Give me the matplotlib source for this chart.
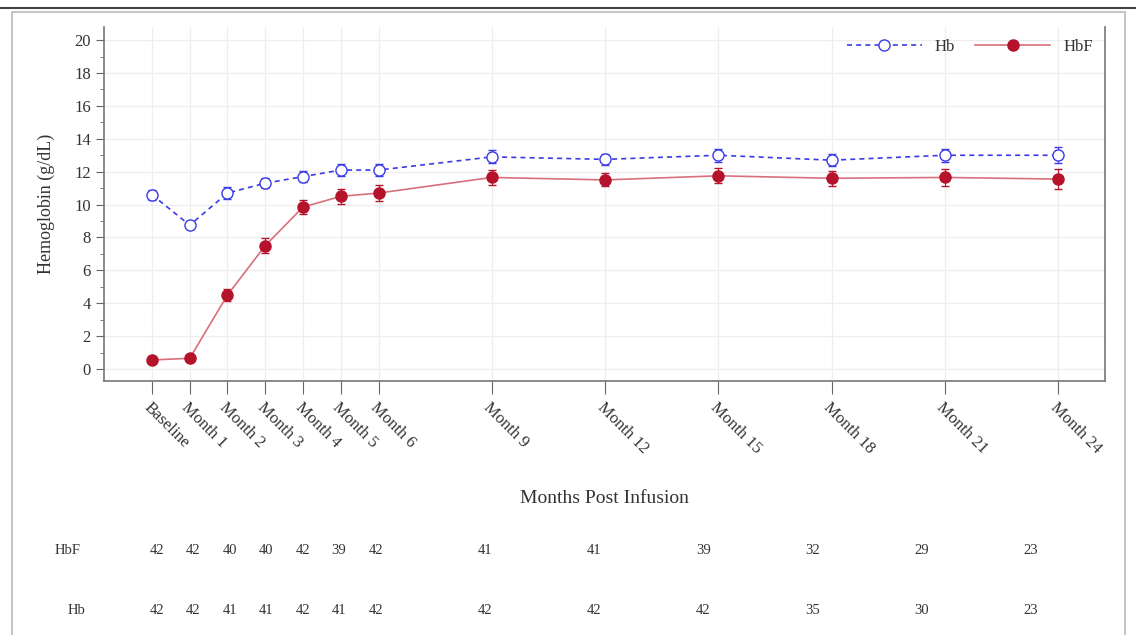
import matplotlib.pyplot as plt
from matplotlib.patches import Rectangle
from matplotlib.lines import Line2D

# data
months = [0, 1, 2, 3, 4, 5, 6, 9, 12, 15, 18, 21, 24]
tick_labels = ['Baseline', 'Month 1', 'Month 2', 'Month 3', 'Month 4', 'Month 5', 'Month 6',
               'Month 9', 'Month 12', 'Month 15', 'Month 18', 'Month 21', 'Month 24']
hb = [10.6, 8.75, 10.7, 11.3, 11.7, 12.1, 12.1, 12.9, 12.75, 13.0, 12.7, 13.0, 13.0]
hb_err = [0.3, 0.25, 0.35, 0.3, 0.35, 0.35, 0.35, 0.4, 0.35, 0.4, 0.35, 0.4, 0.5]
hbf = [0.55, 0.65, 4.5, 7.5, 9.85, 10.5, 10.7, 11.65, 11.5, 11.75, 11.6, 11.65, 11.55]
hbf_err = [0.15, 0.15, 0.35, 0.45, 0.45, 0.45, 0.5, 0.45, 0.4, 0.45, 0.45, 0.5, 0.6]
n_hbf = [42, 42, 40, 40, 42, 39, 42, 41, 41, 39, 32, 29, 23]
n_hb = [42, 42, 41, 41, 42, 41, 42, 42, 42, 42, 35, 30, 23]

plt.rcParams['font.family'] = ['Liberation Serif', 'DejaVu Serif']
txt = '#333333'
blue = '#3a3ae6'
red = '#b5122b'
red_line = '#d8707c'

fig = plt.figure(figsize=(11.36, 6.35), dpi=100)

# outer frame
fig.add_artist(Line2D([0, 1], [1 - 8/635, 1 - 8/635], color='#444444', lw=1.5, transform=fig.transFigure))
fig.add_artist(Rectangle((12/1136, -0.01), (1125 - 12)/1136, (635 - 12)/635 + 0.01, fill=False,
                         edgecolor='#bbbbbb', lw=1.2, transform=fig.transFigure))

ax = fig.add_axes([104/1136, 1 - 381/635, (1105 - 104)/1136, (381 - 27)/635])
ax.errorbar(months, hb, yerr=hb_err, color=blue, ls=(0, (3, 2.5)), lw=1.2, marker='o', ms=8,
            mfc='white', mec=blue, mew=1, ecolor=blue, elinewidth=0.8, capsize=3, zorder=3)
ax.errorbar(months, hbf, yerr=hbf_err, color=red_line, ls='-', lw=1.2, marker='o', ms=8,
            mfc=red, mec=red, ecolor=red, elinewidth=0.8, capsize=3, zorder=4)

ax.set_xlim(-1.27, 25.24)
ax.set_ylim(-0.73, 20.8)
ax.set_xticks(months)
ax.set_xticklabels(tick_labels, rotation=-45, ha='left', va='top', rotation_mode='anchor',
                   fontsize=12, color=txt)
ax.set_yticks(range(0, 21, 2))
ax.set_yticks(range(1, 20, 2), minor=True)
ax.tick_params(axis='y', labelsize=12, labelcolor=txt, color='#666666', length=6)
ax.tick_params(axis='y', which='minor', color='#666666', length=3)
ax.tick_params(axis='x', color='#666666', length=9, pad=4)
ax.grid(True, which='major', color='#eeeeee', lw=0.9)
ax.set_axisbelow(True)
for s in ax.spines.values():
    s.set_color('#777777')
    s.set_linewidth(1.2)
ax.spines['top'].set_visible(False)

ax.set_xlabel('Months Post Infusion', fontsize=14, color=txt, labelpad=24)
ax.set_ylabel('Hemoglobin (g/dL)', fontsize=13, color=txt, labelpad=14)
handles = [Line2D([], [], color=blue, ls=(0, (3, 2.5)), lw=1.2, marker='o', ms=8, mfc='white', mec=blue),
           Line2D([], [], color=red_line, lw=1.2, marker='o', ms=8, mfc=red, mec=red)]
ax.legend(handles, ['Hb', 'HbF'], loc='upper right', ncol=2, frameon=False, fontsize=12,
          handlelength=4.5, columnspacing=1.2, borderaxespad=0.3, labelcolor=txt)

# at-risk counts table
tab = fig.add_axes([104/1136, 0.0, (1105 - 104)/1136, 1 - 520/635])
tab.set_xlim(-1.455, 26.03)
tab.set_ylim(0, 1)
tab.axis('off')
for m, a, b in zip(months, n_hbf, n_hb):
    tab.text(m, 1 - 30/115, str(a), ha='center', va='center', fontsize=10.5, color=txt)
    tab.text(m, 1 - 91/115, str(b), ha='center', va='center', fontsize=10.5, color=txt)
tab.text(-2.45, 1 - 30/115, 'HbF', ha='center', va='center', fontsize=10.5, color=txt)
tab.text(-2.2, 1 - 91/115, 'Hb', ha='center', va='center', fontsize=10.5, color=txt)

fig.savefig('out.png', dpi=100)
